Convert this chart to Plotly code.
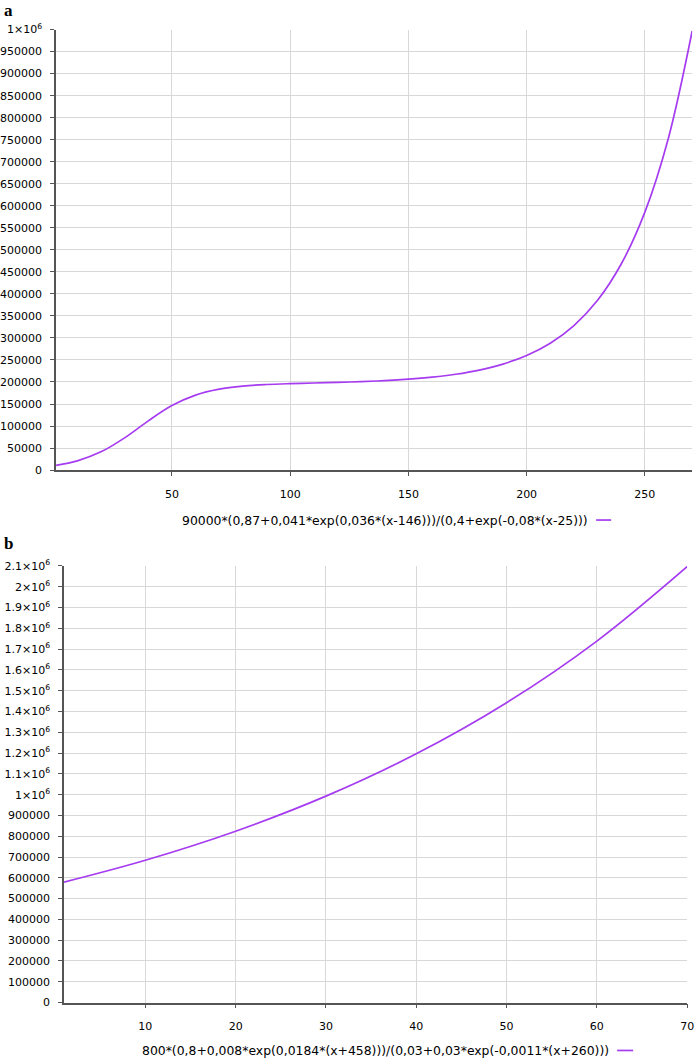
import plotly.graph_objects as go
from plotly.subplots import make_subplots

# panel a
xa = [1, 10, 20, 30, 40, 50, 60, 70, 80, 90, 100, 110, 120, 130, 140,
      150, 160, 170, 180, 190, 200, 210, 220, 230, 240, 250, 260, 270]
ya = [10850, 21060, 41400, 73200, 111800, 146500, 170300, 183800, 190750,
      194300, 196300, 197700, 199100, 200800, 203100, 206400, 211000,
      217600, 227100, 240700, 260200, 288100, 328200, 385500, 467800,
      585600, 754600, 996700]
label_a = "90000*(0,87+0,041*exp(0,036*(x-146)))/(0,4+exp(-0,08*(x-25)))"

# panel b
xb = [1, 10, 20, 30, 40, 50, 60, 70]
yb = [579400, 684500, 824200, 992800, 1196400, 1442100, 1738800, 2097100]
label_b = "800*(0,8+0,008*exp(0,0184*(x+458)))/(0,03+0,03*exp(-0,0011*(x+260)))"

xticks_a = [50, 100, 150, 200, 250]
yticks_a = list(range(0, 1000001, 50000))
xticks_b = [10, 20, 30, 40, 50, 60, 70]
yticks_b = list(range(0, 2100001, 100000))


def ylab(v):
    if v < 1000000:
        return str(v)
    return ('%g' % (v / 1000000)) + "×10<sup>6</sup>"


W, H = 703, 1066


# wanted screenshot pixel -> paper coords (the photo comes out shrunk ~1.3%
# and shifted a little, measured from earlier runs)
def px(x):
    return (x / 0.987 - 2) / W


def py(y):
    return 1 - (y / 0.987 - 7.5) / H


purple = "#a63cf0"
tickfont = dict(family="DejaVu Sans", size=11, color="#000")

fig = make_subplots(rows=2, cols=1)

fig.add_trace(go.Scatter(x=xa, y=ya, mode="lines", line=dict(color=purple, width=1.7, shape="spline"),
                         showlegend=False), row=1, col=1)
fig.add_trace(go.Scatter(x=xb, y=yb, mode="lines", line=dict(color=purple, width=1.7, shape="spline"),
                         showlegend=False), row=2, col=1)

axcommon = dict(showline=True, linecolor="#555", linewidth=1.5, ticks="outside", ticklen=4,
                tickcolor="#555", showgrid=True, gridcolor="#d8d8d8", gridwidth=1,
                zeroline=False, tickfont=tickfont)

fig.update_layout(
    width=W, height=H, margin=dict(l=0, r=0, t=0, b=0),
    plot_bgcolor="white", paper_bgcolor="white", showlegend=False,
    xaxis=dict(domain=[px(56), px(692)], range=[1, 270], tickvals=xticks_a,
               ticklabelstandoff=9, **axcommon),
    yaxis=dict(domain=[py(470), py(29)], range=[0, 1000000], tickvals=yticks_a,
               ticktext=[ylab(v) for v in yticks_a], ticklabelstandoff=6, **axcommon),
    xaxis2=dict(domain=[px(64), px(687)], range=[1, 70], tickvals=xticks_b,
                ticklabelstandoff=9, **axcommon),
    yaxis2=dict(domain=[py(1003), py(566)], range=[0, 2100000], tickvals=yticks_b,
                ticktext=[ylab(v) for v in yticks_b], ticklabelstandoff=6, **axcommon),
)

# legends: text followed by a short line sample
for lab, y_px, x0, x1 in [(label_a, 520, 596, 611), (label_b, 1051, 617, 633)]:
    fig.add_annotation(text=lab, xref="paper", yref="paper", x=px(x0 - 6), y=py(y_px),
                       xanchor="right", yanchor="middle", showarrow=False,
                       font=dict(family="DejaVu Sans", size=12.4, color="#000"))
    fig.add_shape(type="line", xref="paper", yref="paper", x0=px(x0), x1=px(x1),
                  y0=py(y_px), y1=py(y_px), line=dict(color=purple, width=1.7))

# panel letters
for t, x_px, y_px in [("a", 3, 9.8), ("b", 3, 543)]:
    fig.add_annotation(text="<b>" + t + "</b>", xref="paper", yref="paper", x=px(x_px), y=py(y_px),
                       xanchor="left", yanchor="middle", showarrow=False, borderpad=0,
                       font=dict(family="Liberation Serif", size=17, color="#000"))

# drop the default body margin so the figure sits at the page corner
fig.write_html("out.html", config={"displayModeBar": False},
               post_script="document.body.style.margin='0';document.body.style.overflow='hidden';")
